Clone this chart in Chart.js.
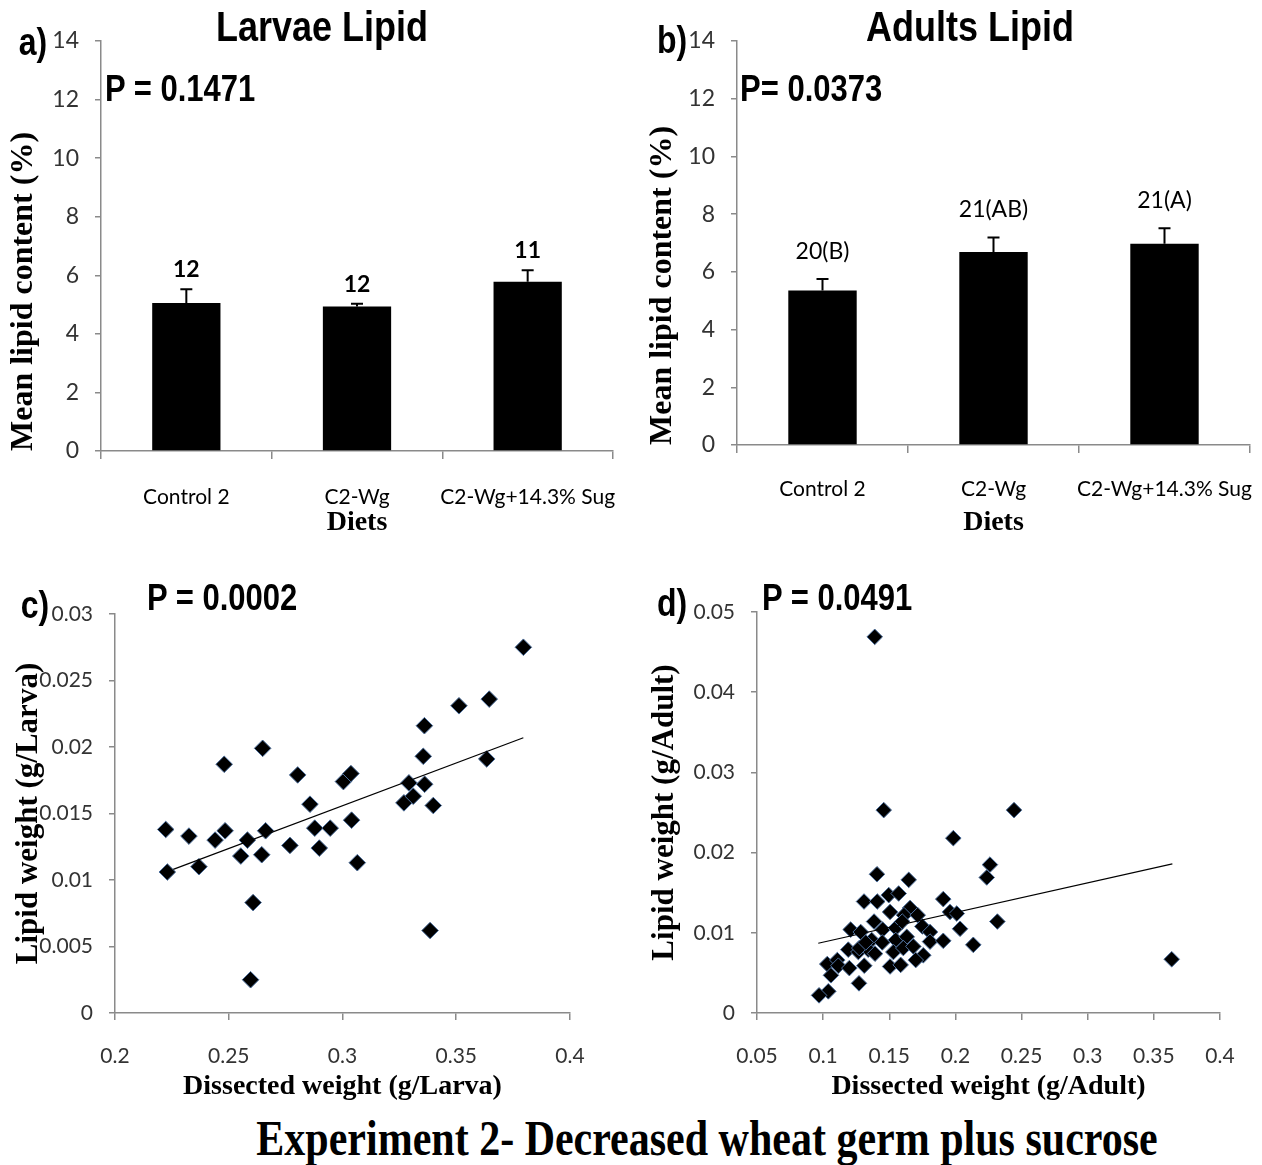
<!DOCTYPE html>
<html>
<head>
<meta charset="utf-8">
<script src="https://cdn.jsdelivr.net/npm/chart.js@4.4.1/dist/chart.umd.min.js"></script>
<style>
  body { margin: 0; background: #fff; }
  #page { position: relative; width: 1262px; height: 1165px; background: #fff; overflow: hidden; }
  .panel { position: absolute; }
  .txt {
    position: absolute; white-space: nowrap; color: #000; line-height: 1;
    font-family: 'Liberation Sans', Arial, sans-serif; font-weight: bold;
  }
  .mid { transform: translate(-50%, -50%) scaleY(1.2); }
  .lft { transform: translateY(-50%) scaleY(1.2); }
  .cap { font-family: 'Liberation Serif', 'Times New Roman', serif; }
</style>
</head>
<body>
<div id="page">
  <div class="panel" style="left:0;top:0"><canvas id="larvaeBar" width="630" height="540"></canvas></div>
  <div class="panel" style="left:631px;top:0"><canvas id="adultBar" width="631" height="540"></canvas></div>
  <div class="panel" style="left:0;top:560px"><canvas id="larvaeScatter" width="631" height="545"></canvas></div>
  <div class="panel" style="left:631px;top:560px"><canvas id="adultScatter" width="631" height="545"></canvas></div>

  <div class="txt mid" style="left:33px;top:42px;font-size:32px">a)</div>
  <div class="txt mid" style="left:322px;top:27px;font-size:36px">Larvae Lipid</div>
  <div class="txt lft" style="left:105px;top:88px;font-size:31px">P = 0.1471</div>

  <div class="txt mid" style="left:672px;top:40px;font-size:32px">b)</div>
  <div class="txt mid" style="left:970px;top:27px;font-size:36px">Adults Lipid</div>
  <div class="txt lft" style="left:740px;top:88px;font-size:31px">P= 0.0373</div>

  <div class="txt mid" style="left:35px;top:605px;font-size:32px">c)</div>
  <div class="txt lft" style="left:147px;top:597px;font-size:31px">P = 0.0002</div>

  <div class="txt mid" style="left:672px;top:603px;font-size:32px">d)</div>
  <div class="txt lft" style="left:762px;top:597px;font-size:31px">P = 0.0491</div>

  <div class="txt mid cap" style="left:707px;top:1138px;font-size:42px">Experiment 2- Decreased wheat germ plus sucrose</div>
</div>

<script>
const tickFont = "Lato, 'Liberation Sans', sans-serif";
const serif = "'Liberation Serif', 'Times New Roman', serif";
const axisGrey = '#8a8a8a';

// bar charts (a, b)
const dietLabels = ['Control 2', 'C2-Wg', 'C2-Wg+14.3% Sug'];
const larvaeMean = [5.05, 4.93, 5.78];
const larvaeErr = [0.47, 0.10, 0.39];
const larvaeN = ['12', '12', '11'];
const adultMean = [5.35, 6.69, 6.97];
const adultErr = [0.40, 0.50, 0.54];
const adultN = ['20(B)', '21(AB)', '21(A)'];

// scatter c: larvae
const larvaX = [0.2223, 0.2230, 0.2325, 0.2369, 0.2440, 0.2480, 0.2484, 0.2553, 0.2582, 0.2607,
  0.2596, 0.2649, 0.2645, 0.2662, 0.2769, 0.2803, 0.2857, 0.2878, 0.2898, 0.2946,
  0.3004, 0.3037, 0.3040, 0.3065, 0.3270, 0.3292, 0.3311, 0.3360, 0.3355, 0.3361,
  0.3399, 0.3385, 0.3512, 0.3634, 0.3645, 0.3795];
const larvaY = [0.0138, 0.0106, 0.0133, 0.0110, 0.0130, 0.0187, 0.0137, 0.0118, 0.0130, 0.0083,
  0.0025, 0.0199, 0.0119, 0.0137, 0.0126, 0.0179, 0.0157, 0.0139, 0.0124, 0.0139,
  0.0174, 0.0180, 0.0145, 0.0113, 0.0158, 0.0173, 0.0163, 0.0216, 0.0193, 0.0172,
  0.0156, 0.0062, 0.0231, 0.0191, 0.0236, 0.0275];
const larvaFitX = [0.2256, 0.3795];
const larvaFitY = [0.0108, 0.0207];
const larvaXTicks = ['0.2', '0.25', '0.3', '0.35', '0.4'];
const larvaYTicks = ['0', '0.005', '0.01', '0.015', '0.02', '0.025', '0.03'];

// scatter d: adults
const adultX = [0.1390, 0.1458, 0.1407, 0.1647, 0.1309, 0.1409, 0.1496, 0.1571, 0.1984, 0.1908,
  0.1657, 0.1506, 0.1385, 0.1611, 0.1715, 0.1959, 0.2010, 0.1208, 0.1284, 0.1450,
  0.1549, 0.1598, 0.1750, 0.1808, 0.1367, 0.1447, 0.1549, 0.1632, 0.1808, 0.1908,
  0.1190, 0.1266, 0.1341, 0.1392, 0.1531, 0.1606, 0.1682, 0.1757, 0.1031, 0.1107,
  0.1115, 0.1198, 0.1311, 0.1506, 0.1586, 0.1700, 0.1059, 0.1271, 0.1039, 0.0969,
  0.1273, 0.1322, 0.2443, 0.2261, 0.2237, 0.2317, 0.2035, 0.2135, 0.3635];
const adultY = [0.0469, 0.0253, 0.0173, 0.0166, 0.0139, 0.0139, 0.0147, 0.0149, 0.0218, 0.0142,
  0.0131, 0.0126, 0.0114, 0.0122, 0.0122, 0.0126, 0.0124, 0.0104, 0.0101, 0.0104,
  0.0106, 0.0114, 0.0108, 0.0101, 0.0091, 0.0088, 0.0091, 0.0095, 0.0089, 0.0090,
  0.0079, 0.0076, 0.0079, 0.0074, 0.0076, 0.0081, 0.0083, 0.0072, 0.0061, 0.0066,
  0.0059, 0.0056, 0.0059, 0.0058, 0.0060, 0.0066, 0.0047, 0.0037, 0.0027, 0.0022,
  0.0081, 0.0088, 0.0253, 0.0185, 0.0169, 0.0114, 0.0105, 0.0085, 0.0067];
const adultFitX = [0.0963, 0.3640];
const adultFitY = [0.0087, 0.0186];
const adultXTicks = ['0.05', '0.1', '0.15', '0.2', '0.25', '0.3', '0.35', '0.4'];
const adultYTicks = ['0', '0.01', '0.02', '0.03', '0.04', '0.05'];

// error bars + n labels on top of bars
const errorBarPlugin = {
  id: 'errorBars',
  afterDatasetsDraw(chart, args, opts) {
    const ctx = chart.ctx;
    const yScale = chart.scales.y;
    const ds = chart.data.datasets[0];
    ctx.save();
    chart.getDatasetMeta(0).data.forEach((bar, i) => {
      const top = yScale.getPixelForValue(ds.data[i] + opts.err[i]);
      ctx.strokeStyle = '#000';
      ctx.lineWidth = 2;
      ctx.beginPath();
      ctx.moveTo(bar.x, bar.y);
      ctx.lineTo(bar.x, top);
      ctx.moveTo(bar.x - 6, top);
      ctx.lineTo(bar.x + 6, top);
      ctx.stroke();
      ctx.font = opts.font;
      ctx.fillStyle = '#000';
      ctx.textAlign = 'center';
      ctx.textBaseline = 'bottom';
      ctx.fillText(opts.labels[i], bar.x, top - opts.gap);
    });
    ctx.restore();
  }
};

function axisCommon(tickLen) {
  return {
    grid: { drawOnChartArea: false, tickLength: tickLen, color: axisGrey, lineWidth: 1.5 },
    border: { color: axisGrey, width: 1.5 }
  };
}

// x axis: fixed height, and keep label overflow from shrinking the plot
function fixX(h) {
  return function (s) {
    s.height = h;
    s.paddingLeft = 0;
    s.paddingRight = 0;
  };
}

function barChart(id, means, errs, nLabels, box) {
  return new Chart(document.getElementById(id), {
    type: 'bar',
    data: {
      labels: dietLabels,
      datasets: [{ data: means, backgroundColor: '#000', barPercentage: 0.4, categoryPercentage: 1 }]
    },
    options: {
      responsive: false,
      animation: false,
      layout: { padding: { left: 0, top: box.top, right: box.w - box.right, bottom: 0 } },
      plugins: {
        legend: { display: false },
        tooltip: { enabled: false },
        errorBars: { err: errs, labels: nLabels, font: box.nFont, gap: box.nGap }
      },
      scales: {
        x: {
          ...axisCommon(8),
          ticks: { font: { family: tickFont, size: 21 }, color: '#000', padding: box.xTickPad, maxRotation: 0, autoSkip: false },
          title: { display: true, text: 'Diets', color: '#000', font: { family: serif, size: 28, weight: 'bold' }, padding: { top: 0, bottom: 0 } },
          afterFit: fixX(box.h - box.bottom)
        },
        y: {
          ...axisCommon(6),
          min: 0, max: 14,
          ticks: { stepSize: 2, font: { family: tickFont, size: 23 }, color: '#333', padding: 16 },
          title: { display: true, text: 'Mean lipid content (%)', align: 'start', color: '#000', font: { family: serif, size: 32, weight: 'bold' }, padding: { top: box.yTitlePad, bottom: 0 } },
          afterFit(s) { s.width = box.left; }
        }
      }
    },
    plugins: [errorBarPlugin]
  });
}

function scatterChart(id, xs, ys, fitX, fitY, xr, yr, xTitle, yTitle, box) {
  const pts = xs.map((x, i) => ({ x: x, y: ys[i] }));
  const fit = fitX.map((x, i) => ({ x: x, y: fitY[i] }));
  return new Chart(document.getElementById(id), {
    type: 'scatter',
    data: {
      datasets: [
        { type: 'line', data: fit, borderColor: '#000', borderWidth: 1.2, pointRadius: 0, fill: false },
        { data: pts, pointStyle: 'rectRot', pointRadius: box.r, backgroundColor: '#000', borderColor: '#4d6f9c', borderWidth: 1 }
      ]
    },
    options: {
      responsive: false,
      animation: false,
      layout: { padding: { left: 0, top: box.top, right: box.w - box.right, bottom: 0 } },
      plugins: { legend: { display: false }, tooltip: { enabled: false } },
      scales: {
        x: {
          ...axisCommon(7),
          type: 'linear', min: xr.min, max: xr.max,
          ticks: { stepSize: xr.step, font: { family: tickFont, size: 21 }, color: '#333', padding: 24, callback: (v, i) => xr.labels[i] },
          title: { display: true, text: xTitle, color: '#000', font: { family: serif, size: 28, weight: 'bold' }, padding: { top: 0, bottom: 1 } },
          afterFit: fixX(box.h - box.bottom)
        },
        y: {
          ...axisCommon(6),
          min: 0, max: yr.max,
          ticks: { stepSize: yr.step, font: { family: tickFont, size: 21 }, color: '#333', padding: 16, callback: (v, i) => yr.labels[i] },
          title: { display: true, text: yTitle, color: '#000', font: { family: serif, size: 31, weight: 'bold' }, padding: { top: box.yTitlePad, bottom: 0 } },
          afterFit(s) { s.width = box.left; }
        }
      }
    }
  });
}

barChart('larvaeBar', larvaeMean, larvaeErr, larvaeN,
  { w: 630, h: 540, left: 101, top: 41, right: 613, bottom: 451, xTickPad: 26, yTitlePad: 5,
    nFont: "bold 23px " + tickFont, nGap: 8 });

barChart('adultBar', adultMean, adultErr, adultN,
  { w: 631, h: 540, left: 106, top: 41, right: 619, bottom: 445, xTickPad: 24, yTitlePad: 13,
    nFont: "23px " + tickFont, nGap: 16 });

scatterChart('larvaeScatter', larvaX, larvaY, larvaFitX, larvaFitY,
  { min: 0.2, max: 0.4, step: 0.05, labels: larvaXTicks },
  { max: 0.03, step: 0.005, labels: larvaYTicks },
  'Dissected weight (g/Larva)', 'Lipid weight (g/Larva)',
  { w: 631, h: 545, left: 115, top: 54, right: 570, bottom: 453, yTitlePad: 10, r: 8.3 });

scatterChart('adultScatter', adultX, adultY, adultFitX, adultFitY,
  { min: 0.05, max: 0.4, step: 0.05, labels: adultXTicks },
  { max: 0.05, step: 0.01, labels: adultYTicks },
  'Dissected weight (g/Adult)', 'Lipid weight (g/Adult)',
  { w: 631, h: 545, left: 126, top: 52, right: 589, bottom: 453, yTitlePad: 15, r: 7.8 });
</script>
</body>
</html>
